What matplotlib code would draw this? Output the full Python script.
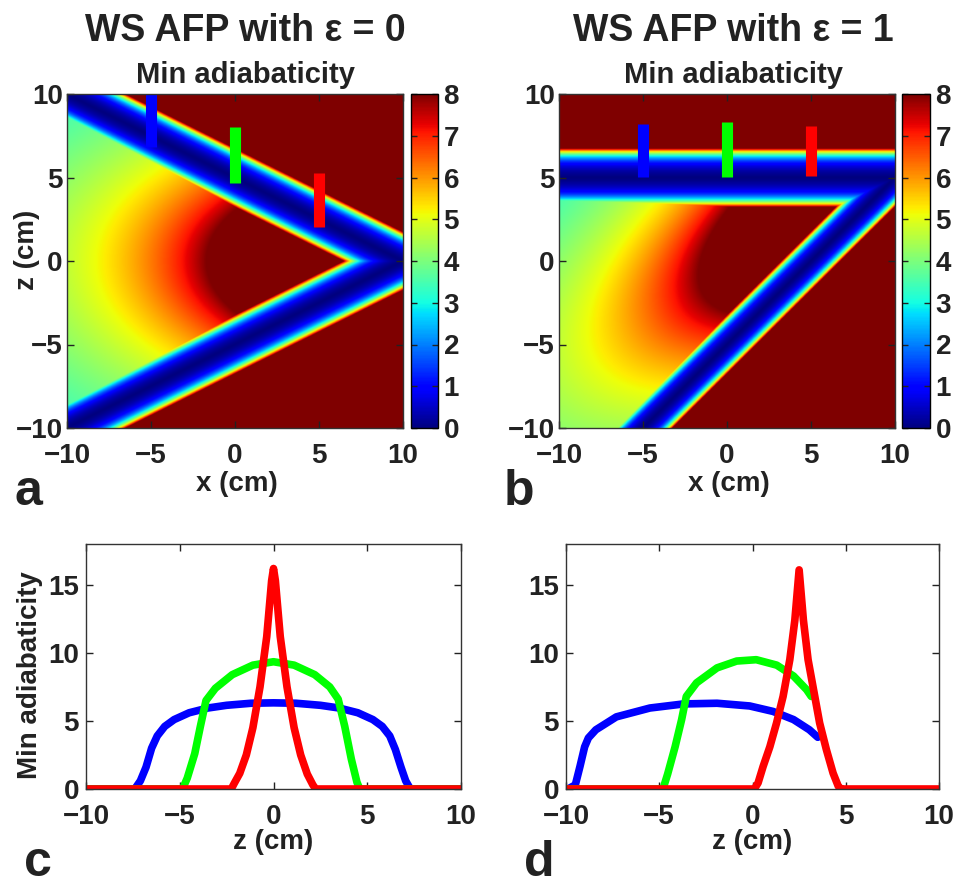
import numpy as np
import matplotlib
matplotlib.use("Agg")
import matplotlib.pyplot as plt

plt.rcParams['font.family'] = ['Liberation Sans', 'DejaVu Sans']
plt.rcParams['font.weight'] = 'bold'

# ---------------- data ----------------
# heat-map model parameters (panels a, b)
eps_values = [0, 1]                 # epsilon for panel a and b
apex_x = 10.0                       # where the resonance lines meet (cm)
z_scale = 2.0                       # ellipse stretch of the adiabaticity field along z
field_gain = 93.6                   # base adiabaticity * distance
band_amp = 0.208                    # band profile amplitude
band_rate = 2.1                     # band profile growth (1/cm)
clim = [0, 8]

# coloured marker bars: x position, z start, z end (panel a and b)
bar_x = [-5, 0, 5]
bar_colors = ['#0000ff', '#00ff00', '#ff0000']
bars_a_z = [(6.8, 10.0), (4.7, 8.0), (2.05, 5.25)]
bars_b_z = [(5.05, 8.2), (5.05, 8.3), (5.1, 8.1)]

# panel c curves (z in cm, min adiabaticity)
c_blue_z = [-10, -7.4, -7.1, -6.8, -6.5, -6.2, -5.8, -5.3, -4.5, -3.5, -2.5, -1.2, 0,
            1.2, 2.5, 3.5, 4.5, 5.3, 5.8, 6.2, 6.5, 6.8, 7.05, 7.3, 10]
c_blue_v = [0, 0, 0.6, 1.6, 3.0, 3.9, 4.6, 5.1, 5.6, 5.95, 6.15, 6.3, 6.33,
            6.3, 6.15, 5.95, 5.6, 5.1, 4.6, 3.9, 2.9, 1.6, 0.6, 0, 0]
c_green_z = [-10, -4.85, -4.6, -4.2, -3.9, -3.6, -3.1, -2.2, -1.1, 0,
             1.1, 2.2, 3.0, 3.45, 3.8, 4.15, 4.45, 4.6, 10]
c_green_v = [0, 0, 0.8, 2.6, 4.6, 6.5, 7.4, 8.4, 9.1, 9.35,
             9.1, 8.4, 7.5, 6.6, 4.6, 2.2, 0.5, 0, 0]
c_red_z = [-10, -2.25, -2.1, -1.8, -1.45, -1.1, -0.72, -0.36, -0.1, 0,
           0.1, 0.36, 0.72, 1.1, 1.45, 1.8, 2.1, 2.25, 10]
c_red_v = [0, 0, 0.4, 1.15, 2.5, 4.5, 7.5, 11.2, 15.3, 16.2,
           15.3, 11.2, 7.5, 4.5, 2.5, 1.1, 0.3, 0, 0]

# panel d curves
d_blue_z = [-10, -9.9, -9.5, -9.25, -9.0, -8.8, -8.4, -7.3, -5.5, -3.7, -1.9, -0.15,
            1.1, 2.2, 3.05, 3.5]
d_blue_v = [0, 0, 0.3, 1.66, 3.1, 3.75, 4.35, 5.3, 5.95, 6.25, 6.3, 6.1,
            5.7, 5.1, 4.35, 3.8]
d_green_z = [-10, -4.8, -4.55, -4.15, -3.8, -3.55, -3.0, -1.9, -0.85, 0.2, 1.3, 2.2, 2.9, 3.15]
d_green_v = [0, 0, 1.1, 3.1, 5.1, 6.8, 7.8, 8.9, 9.4, 9.5, 9.1, 8.3, 7.3, 6.8]
d_red_z = [-10, 0.1, 0.3, 0.57, 0.93, 1.29, 1.64, 2.0, 2.27, 2.5,
           2.73, 2.98, 3.34, 3.6, 3.96, 4.32, 4.6, 4.75, 10]
d_red_v = [0, 0, 0.45, 1.66, 3.1, 4.85, 6.8, 9.5, 12.4, 16.1,
           12.4, 9.5, 6.8, 4.85, 2.9, 1.17, 0.2, 0, 0]

ticks = [-10, -5, 0, 5, 10]
titles = ['WS AFP with ε = 0', 'WS AFP with ε = 1']
panel_letters = ['a', 'b', 'c', 'd']

# ---------------- figure ----------------
W, H = 966, 890
fig = plt.figure(figsize=(W / 100, H / 100), dpi=100)
TXT = '#222222'
TICK_FS = 20
LAB_FS = 20


def add_ax(l, t, r, b):
    return fig.add_axes([l / W, 1 - b / H, (r - l) / W, (b - t) / H])


def ftext(px, py, s, **kw):
    return fig.text(px / W, 1 - py / H, s, fontweight='bold', color=TXT, **kw)


def style(ax, fs=TICK_FS, xpad=7, ypad=4):
    ax.tick_params(direction='in', length=5, width=1, top=True, right=True,
                   labelsize=fs, colors=TXT)
    ax.tick_params(axis='x', pad=xpad)
    ax.tick_params(axis='y', pad=ypad)
    for lab in ax.get_xticklabels() + ax.get_yticklabels():
        lab.set_fontweight('bold')
    for s in ax.spines.values():
        s.set_linewidth(1.0)
        s.set_color('#333333')


def field(eps):
    x = np.linspace(-10, 10, 600)
    z = np.linspace(-10, 10, 600)
    X, Z = np.meshgrid(x, z)
    U = Z - eps * X / 2.0
    dline = np.abs(U) - (apex_x - X) / 2.0
    dist = np.abs(dline)
    band = band_amp * (np.exp(band_rate * dist) - 1)
    r = np.sqrt((X - apex_x) ** 2 + (z_scale * U) ** 2)
    base = np.where(dline < 0, field_gain / np.maximum(r, 1e-6), np.inf)
    return np.minimum(base, band)


heat_boxes = [(67, 94, 403, 428), (559, 94, 895, 428)]
cbar_boxes = [(411, 94, 438, 428), (902, 94, 930, 428)]
bar_sets = [bars_a_z, bars_b_z]
title_cx = [245, 733]
xlabel_cx = [237, 729]

for i, eps in enumerate(eps_values):
    ax = add_ax(*heat_boxes[i])
    V = field(eps)
    im = ax.imshow(V, origin='lower', extent=[-10, 10, -10, 10], cmap='jet',
                   vmin=clim[0], vmax=clim[1], aspect='auto', interpolation='bilinear')
    for xb, col, (z0, z1) in zip(bar_x, bar_colors, bar_sets[i]):
        ax.plot([xb, xb], [z0, z1], color=col, lw=8, solid_capstyle='butt')
    ax.set_xlim(-10, 10)
    ax.set_ylim(-10, 10)
    ax.set_xticks(ticks)
    ax.set_yticks(ticks)
    style(ax, xpad=11, ypad=3)
    ftext(xlabel_cx[i], 491, 'x (cm)', fontsize=LAB_FS, ha='center', va='baseline')
    if i == 0:
        ftext(27, 250, 'z (cm)', fontsize=LAB_FS, ha='center', va='center', rotation=90)
    cax = add_ax(*cbar_boxes[i])
    cb = fig.colorbar(im, cax=cax, ticks=range(0, 9))
    cax.tick_params(direction='in', length=4, width=1, labelsize=TICK_FS, pad=4,
                    left=True, right=True, colors=TXT)
    for lab in cax.get_yticklabels():
        lab.set_fontweight('bold')
    cb.outline.set_linewidth(1.0)
    ftext(title_cx[i], 41, titles[i], ha='center', va='baseline', fontsize=27)
    ftext(title_cx[i], 83, 'Min adiabaticity', ha='center', va='baseline', fontsize=21)

line_boxes = [(86, 544, 461, 789), (566, 544, 939, 789)]
curves = [
    [(c_blue_z, c_blue_v, '#0000ff'), (c_green_z, c_green_v, '#00ff00'), (c_red_z, c_red_v, '#ff0000')],
    [(d_blue_z, d_blue_v, '#0000ff'), (d_green_z, d_green_v, '#00ff00'), (d_red_z, d_red_v, '#ff0000')],
]
for i in range(2):
    ax = add_ax(*line_boxes[i])
    for zz, vv, col in curves[i]:
        ax.plot(zz, vv, color=col, lw=5.5, solid_joinstyle='round', solid_capstyle='round')
    ax.set_xlim(-10, 10)
    ax.set_ylim(0, 18)
    ax.set_xticks(ticks)
    ax.set_yticks([0, 5, 10, 15])
    style(ax, xpad=11, ypad=5)
    ax.set_xlabel('z (cm)', fontsize=LAB_FS, fontweight='bold', labelpad=-1, color=TXT)
    if i == 0:
        ftext(30, 675, 'Min adiabaticity', fontsize=LAB_FS, ha='center', va='center',
              rotation=90)

letter_pos = [(14, 505), (504, 505), (24, 876), (524, 876)]
for (px, py), s in zip(letter_pos, panel_letters):
    ftext(px, py, s, fontsize=36, va='baseline', ha='left')

fig.savefig('out.png', dpi=100)
